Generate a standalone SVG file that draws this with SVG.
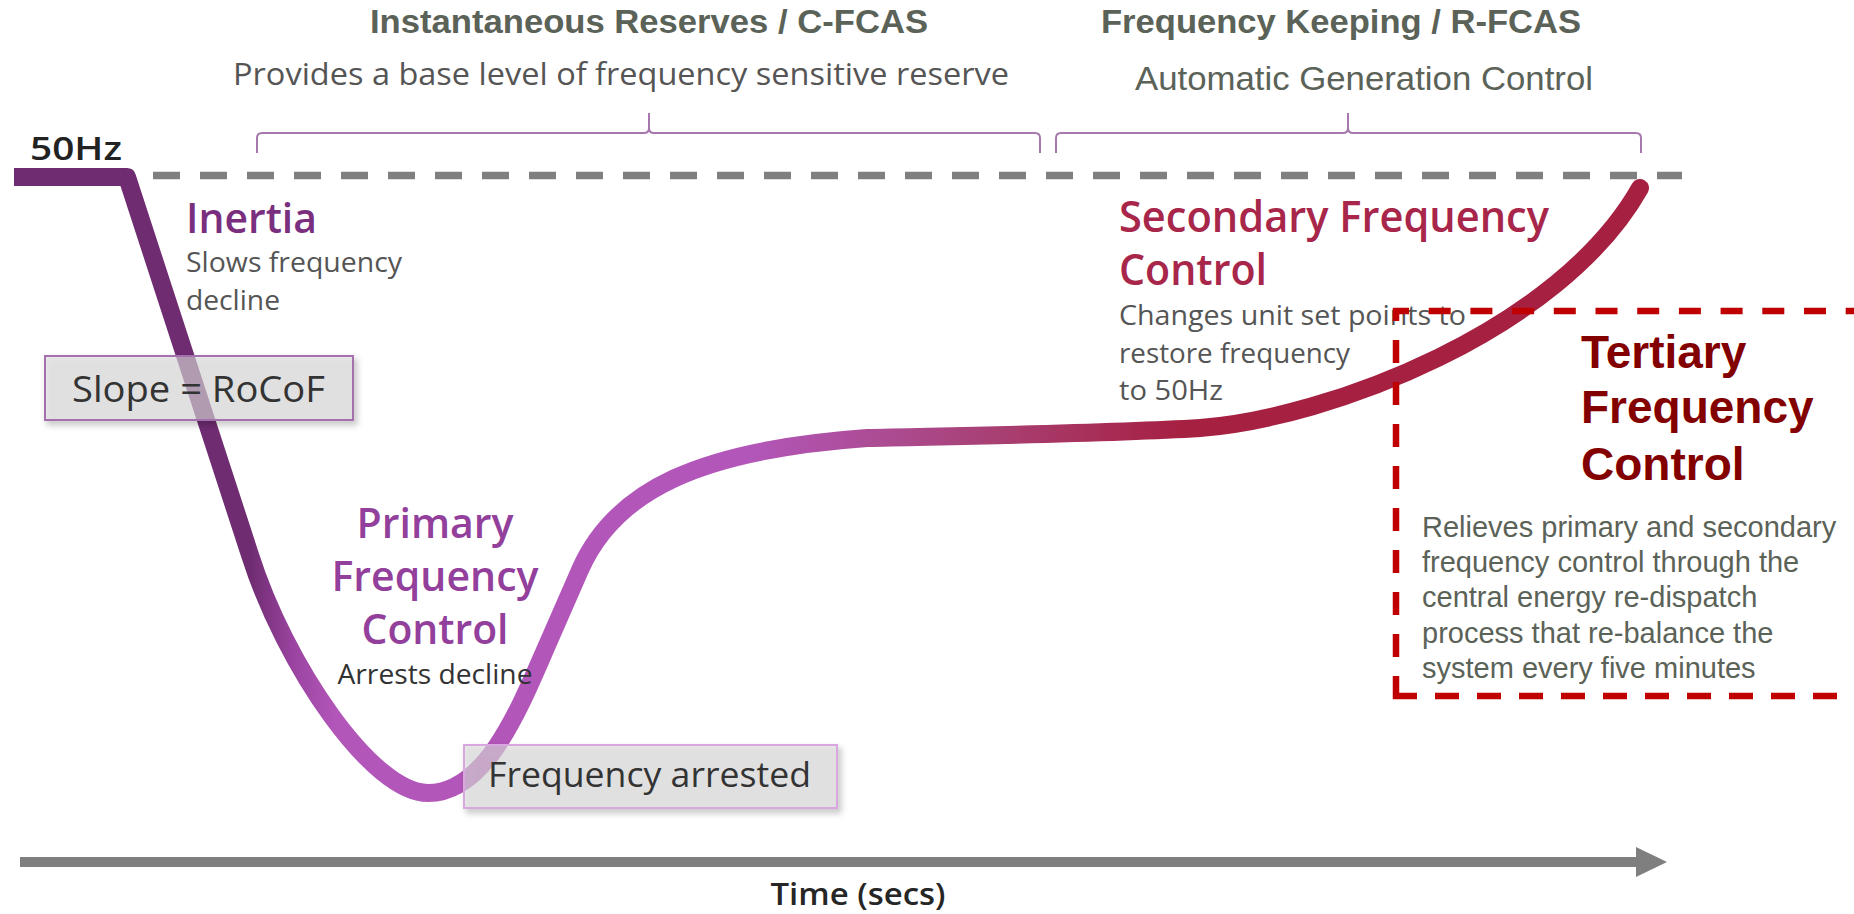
<svg xmlns="http://www.w3.org/2000/svg" width="1854" height="914" viewBox="0 0 1854 914">
  <defs>
    <linearGradient id="curveGrad" gradientUnits="userSpaceOnUse" x1="0" y1="0" x2="1854" y2="0">
      <stop offset="0" stop-color="#6f2c71"/>
      <stop offset="0.135" stop-color="#6f2c71"/>
      <stop offset="0.158" stop-color="#9a44a0"/>
      <stop offset="0.181" stop-color="#b256b9"/>
      <stop offset="0.405" stop-color="#b256b9"/>
      <stop offset="0.485" stop-color="#ab4a8e"/>
      <stop offset="0.54" stop-color="#a83f72"/>
      <stop offset="0.636" stop-color="#a62042"/>
      <stop offset="1" stop-color="#a62042"/>
    </linearGradient>
    <filter id="shadow" x="-10%" y="-20%" width="125%" height="160%">
      <feDropShadow dx="3" dy="4" stdDeviation="3" flood-color="#000" flood-opacity="0.3"/>
    </filter>
  </defs>
  <style>
    .seg { font-family: "Open Sans", "Noto Sans", sans-serif; }
    .ar { font-family: "Liberation Sans", Arial, sans-serif; }
    .title { font-size: 34px; font-weight: bold; fill: #5b6258; }
    .sub { font-size: 33px; fill: #5b6258; }
    .body { font-size: 27px; fill: #555555; }
    .head { font-size: 42px; font-weight: 600; }
    .box { fill: #dcdcdc; fill-opacity: 0.6; stroke-width: 2; }
    .brace { fill: none; stroke: #a678ad; stroke-width: 2; }
    .reddash { fill: none; stroke: #c00000; stroke-width: 6.5; }
    .desc { font-size: 29px; fill: #5b6258; }
    .tert { font-size: 46px; font-weight: bold; fill: #830000; }
  </style>

  <g id="braces">
    <path class="brace" d="M257,153 V138 Q257,133 262,133 H644 Q649,133 649,128 V113 M649,128 Q649,133 654,133 H1035 Q1040,133 1040,138 V153"/>
    <path class="brace" d="M1056,153 V138 Q1056,133 1061,133 H1343 Q1348,133 1348,128 V113 M1348,128 Q1348,133 1353,133 H1636 Q1641,133 1641,138 V153"/>
  </g>

  <g id="connectors">
    <path id="ref50" d="M153,175.5 H1682" fill="none" stroke="#7f7f7f" stroke-width="7.5" stroke-dasharray="27 20"/>
    <path id="freq-curve" d="M14,177 H127 L250,555 C285,665 372,793 428,793 C485,793 518,712 545,650 L580,570 C615,490 700,450 867,438 C950,436 1100,434 1200,428 C1330,418 1560,330 1640,188" fill="none" stroke="url(#curveGrad)" stroke-width="18" stroke-linejoin="round" stroke-linecap="round"/>
    <rect x="0" y="168" width="14" height="18" fill="#ffffff"/>
    <g id="time-axis">
      <path d="M20,862 H1640" stroke="#7f7f7f" stroke-width="10" fill="none"/>
      <polygon points="1636,847 1667,862 1636,877" fill="#7f7f7f"/>
    </g>
  </g>

  <g id="header-cfcas">
    <text class="ar title" x="649" y="33" text-anchor="middle" textLength="558" lengthAdjust="spacingAndGlyphs">Instantaneous Reserves / C-FCAS</text>
    <text class="seg" x="621" y="85" text-anchor="middle" font-size="31" fill="#555555" textLength="776" lengthAdjust="spacingAndGlyphs">Provides a base level of frequency sensitive reserve</text>
  </g>
  <g id="header-rfcas">
    <text class="ar title" x="1341" y="33" text-anchor="middle" textLength="480" lengthAdjust="spacingAndGlyphs">Frequency Keeping / R-FCAS</text>
    <text class="ar sub" x="1364" y="90" text-anchor="middle" textLength="458" lengthAdjust="spacingAndGlyphs">Automatic Generation Control</text>
  </g>

  <g id="label-50hz">
    <text class="seg" x="30" y="160" font-size="32" font-weight="600" fill="#222222" textLength="92" lengthAdjust="spacingAndGlyphs">50Hz</text>
  </g>

  <g id="inertia">
    <text class="seg head" x="186" y="233" fill="#7a2e7e" textLength="131" lengthAdjust="spacingAndGlyphs">Inertia</text>
    <text class="seg body" x="186" y="272" textLength="216" lengthAdjust="spacingAndGlyphs">Slows frequency</text>
    <text class="seg body" x="186" y="310" textLength="94" lengthAdjust="spacingAndGlyphs">decline</text>
  </g>

  <g id="slope-box">
    <rect class="box" x="45" y="356" width="308" height="64" stroke="#a46fae" filter="url(#shadow)"/>
    <text class="seg" x="72" y="402" font-size="36" fill="#333333" textLength="253" lengthAdjust="spacingAndGlyphs">Slope = RoCoF</text>
  </g>

  <g id="primary">
    <text class="seg head" x="435" y="538" text-anchor="middle" fill="#92409b" textLength="157" lengthAdjust="spacingAndGlyphs">Primary</text>
    <text class="seg head" x="435" y="591" text-anchor="middle" fill="#92409b" textLength="207" lengthAdjust="spacingAndGlyphs">Frequency</text>
    <text class="seg head" x="435" y="644" text-anchor="middle" fill="#92409b" textLength="147" lengthAdjust="spacingAndGlyphs">Control</text>
    <text class="seg" x="435" y="684" text-anchor="middle" font-size="27" fill="#333333" textLength="195" lengthAdjust="spacingAndGlyphs">Arrests decline</text>
  </g>

  <g id="arrested-box">
    <rect class="box" x="464" y="745" width="373" height="63" stroke="#d9a6e0" filter="url(#shadow)"/>
    <text class="seg" x="488" y="787" font-size="34" fill="#333333" textLength="323" lengthAdjust="spacingAndGlyphs">Frequency arrested</text>
  </g>

  <g id="secondary">
    <text class="seg" x="1119" y="232" font-size="43" font-weight="600" fill="#a7264a" textLength="430" lengthAdjust="spacingAndGlyphs">Secondary Frequency</text>
    <text class="seg" x="1119" y="285" font-size="43" font-weight="600" fill="#a7264a" textLength="148" lengthAdjust="spacingAndGlyphs">Control</text>
    <text class="seg body" x="1119" y="325" textLength="347" lengthAdjust="spacingAndGlyphs">Changes unit set points to</text>
    <text class="seg body" x="1119" y="363" textLength="231" lengthAdjust="spacingAndGlyphs">restore frequency</text>
    <text class="seg body" x="1119" y="400" textLength="104" lengthAdjust="spacingAndGlyphs">to 50Hz</text>
  </g>

  <g id="tertiary">
    <path class="reddash" d="M1393,311 H1860" stroke-dasharray="22 19.7" stroke-dashoffset="6"/>
    <path class="reddash" d="M1396,699 V308" stroke-dasharray="23 19"/>
    <path class="reddash" d="M1393,696 H1860" stroke-dasharray="24 18"/>
    <text class="ar tert" x="1581" y="368">Tertiary</text>
    <text class="ar tert" x="1581" y="423">Frequency</text>
    <text class="ar tert" x="1581" y="480">Control</text>
    <text class="ar desc" x="1422" y="537">Relieves primary and secondary</text>
    <text class="ar desc" x="1422" y="572">frequency control through the</text>
    <text class="ar desc" x="1422" y="607">central energy re-dispatch</text>
    <text class="ar desc" x="1422" y="643">process that re-balance the</text>
    <text class="ar desc" x="1422" y="678">system every five minutes</text>
  </g>

  <g id="axis-label">
    <text class="seg" x="858" y="905" text-anchor="middle" font-size="30" font-weight="600" fill="#262626" textLength="175" lengthAdjust="spacingAndGlyphs">Time (secs)</text>
  </g>
</svg>
